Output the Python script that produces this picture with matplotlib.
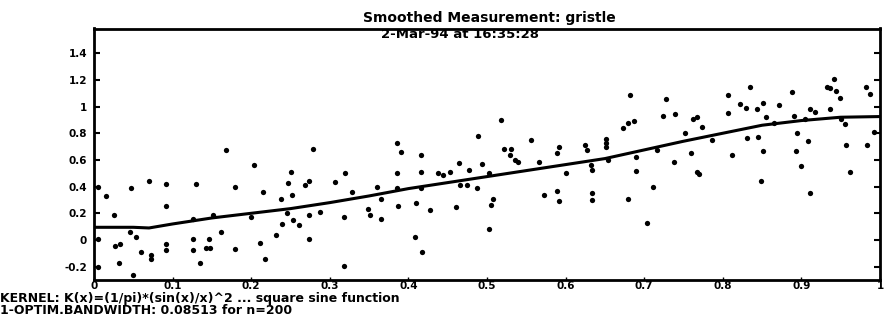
import matplotlib
matplotlib.use("Agg")
import matplotlib.pyplot as plt

# Observations (x, y)
obs_x = [0.005, 0.015, 0.026, 0.005, 0.005, 0.027, 0.033, 0.032, 0.047, 0.046,
         0.053, 0.049, 0.060, 0.070, 0.072, 0.072, 0.092, 0.092, 0.092, 0.092,
         0.126, 0.130, 0.126, 0.126, 0.135, 0.142, 0.148, 0.146, 0.151, 0.162,
         0.168, 0.179, 0.180, 0.200, 0.204, 0.211, 0.215, 0.218, 0.232, 0.238,
         0.239, 0.246, 0.247, 0.250, 0.252, 0.253, 0.261, 0.268, 0.273, 0.274,
         0.278, 0.273, 0.287, 0.306, 0.318, 0.319, 0.318, 0.328, 0.349, 0.351,
         0.360, 0.365, 0.365, 0.385, 0.386, 0.391, 0.385, 0.387, 0.410, 0.416,
         0.416, 0.416, 0.408, 0.417, 0.427, 0.438, 0.444, 0.453, 0.465, 0.461,
         0.466, 0.474, 0.477, 0.487, 0.488,
         0.494, 0.502, 0.508, 0.505, 0.502, 0.518, 0.521, 0.531, 0.529, 0.536,
         0.539, 0.556, 0.566, 0.573, 0.589, 0.592, 0.589, 0.592, 0.601, 0.625,
         0.627, 0.632, 0.634, 0.633, 0.634, 0.652, 0.652, 0.652, 0.654, 0.673,
         0.680, 0.687, 0.682, 0.689, 0.680, 0.690, 0.703, 0.711, 0.716, 0.724,
         0.739, 0.728, 0.738, 0.752, 0.759, 0.762, 0.767, 0.767, 0.770, 0.773,
         0.786, 0.806, 0.807, 0.812, 0.822, 0.830, 0.831, 0.835, 0.843, 0.845,
         0.851, 0.851, 0.849, 0.855, 0.865, 0.872, 0.888, 0.891, 0.894, 0.893,
         0.900, 0.904, 0.908, 0.911, 0.917, 0.911, 0.932, 0.936, 0.936, 0.941,
         0.944, 0.949, 0.951, 0.955, 0.957, 0.962, 0.982, 0.987, 0.983, 0.993]
obs_y = [0.40, 0.33, 0.185, 0.005, -0.205, -0.045, -0.03, -0.17, 0.39, 0.06,
         0.02, -0.26, -0.09, 0.44, -0.11, -0.14, 0.42, 0.255, -0.03, -0.075,
         0.155, 0.42, 0.01, -0.075, -0.17, -0.06, -0.06, 0.005, 0.19, 0.06,
         0.675, 0.40, -0.065, 0.175, 0.56, -0.025, 0.36, -0.145, 0.037, 0.31,
         0.12, 0.205, 0.43, 0.51, 0.34, 0.15, 0.11, 0.41, 0.44, 0.19,
         0.68, 0.007, 0.21, 0.435, 0.17, 0.50, -0.195, 0.36, 0.23, 0.19,
         0.40, 0.305, 0.155, 0.50, 0.73, 0.66, 0.39, 0.255, 0.275, 0.64,
         0.51, 0.39, 0.02, -0.09, 0.225, 0.50, 0.485, 0.51, 0.58, 0.245,
         0.41, 0.41, 0.525, 0.39, 0.78,
         0.57, 0.50, 0.31, 0.26, 0.08, 0.90, 0.68, 0.68, 0.64, 0.60,
         0.585, 0.75, 0.585, 0.34, 0.37, 0.29, 0.655, 0.70, 0.505, 0.71,
         0.675, 0.56, 0.525, 0.355, 0.30, 0.76, 0.73, 0.70, 0.60, 0.84,
         0.875, 0.895, 1.09, 0.62, 0.305, 0.52, 0.125, 0.40, 0.675, 0.93,
         0.945, 1.055, 0.585, 0.80, 0.655, 0.905, 0.925, 0.51, 0.495, 0.85,
         0.75, 1.085, 0.955, 0.64, 1.02, 0.99, 0.765, 1.15, 0.985, 0.775,
         1.025, 0.665, 0.44, 0.925, 0.88, 1.015, 1.11, 0.93, 0.80, 0.665,
         0.555, 0.905, 0.745, 0.985, 0.96, 0.355, 1.145, 1.14, 0.98, 1.21,
         1.12, 1.065, 0.91, 0.87, 0.71, 0.51, 1.15, 1.095, 0.71, 0.81]

# Kernel-smoothed curve
smooth_x = [0.0, 0.05, 0.07, 0.10, 0.15, 0.20, 0.25, 0.30, 0.35, 0.40, 0.45,
            0.50, 0.55, 0.60, 0.65, 0.70, 0.75, 0.80, 0.85, 0.90, 0.95, 1.0]
smooth_y = [0.095, 0.095, 0.09, 0.12, 0.165, 0.20, 0.235, 0.28, 0.33, 0.385, 0.43,
            0.475, 0.52, 0.565, 0.61, 0.675, 0.74, 0.80, 0.86, 0.895, 0.92, 0.925]

xticks = [0, 0.1, 0.2, 0.3, 0.4, 0.5, 0.6, 0.7, 0.8, 0.9, 1]
xticklabels = ["0", "0.1", "0.2", "0.3", "0.4", "0.5", "0.6", "0.7", "0.8", "0.9", "1"]
yticks = [-0.2, 0, 0.2, 0.4, 0.6, 0.8, 1, 1.2, 1.4]
yticklabels = ["-0.2", "0", "0.2", "0.4", "0.6", "0.8", "1", "1.2", "1.4"]

title1 = "Smoothed Measurement: gristle"
title2 = "2-Mar-94 at 16:35:28"
foot1 = "KERNEL: K(x)=(1/pi)*(sin(x)/x)^2 ... square sine function"
foot2 = "1-OPTIM.BANDWIDTH: 0.08513 for n=200"

FONT = "DejaVu Sans"

fig = plt.figure(figsize=(8.84, 3.20), dpi=100)
ax = fig.add_axes([94/884, 1 - 280/320, (880 - 94)/884, (280 - 28.5)/320])

ax.plot(obs_x, obs_y, linestyle="none", marker="o", markersize=3.8,
        color="black", markeredgewidth=0)
ax.plot(smooth_x, smooth_y, color="black", linewidth=2.2)

ax.set_xlim(0, 1)
ax.set_ylim(-0.30, 1.585)
ax.set_xticks(xticks)
ax.set_xticklabels(xticklabels)
ax.set_yticks(yticks)
ax.set_yticklabels(yticklabels)
for lab in ax.get_xticklabels() + ax.get_yticklabels():
    lab.set_fontfamily(FONT)
    lab.set_fontweight("bold")
    lab.set_fontsize(7.5)
ax.tick_params(axis="y", direction="in", length=4, width=1.5, pad=5,
               left=True, right=True)
ax.tick_params(axis="x", direction="in", length=2, width=1.0, pad=1)
for sp in ax.spines.values():
    sp.set_linewidth(2.0)

fig.text(489/884, 1 - 18/320, title1, ha="center", va="center",
         fontfamily=FONT, fontweight="bold", fontsize=10)
fig.text(460/884, 1 - 35/320, title2, ha="center", va="center",
         fontfamily=FONT, fontweight="bold", fontsize=9.5)
fig.text(0.0, 1 - 298.5/320, foot1, ha="left", va="center",
         fontfamily=FONT, fontweight="bold", fontsize=9)
fig.text(0.0, 1 - 311/320, foot2, ha="left", va="center",
         fontfamily=FONT, fontweight="bold", fontsize=9)

fig.savefig("out.png", dpi=100)
